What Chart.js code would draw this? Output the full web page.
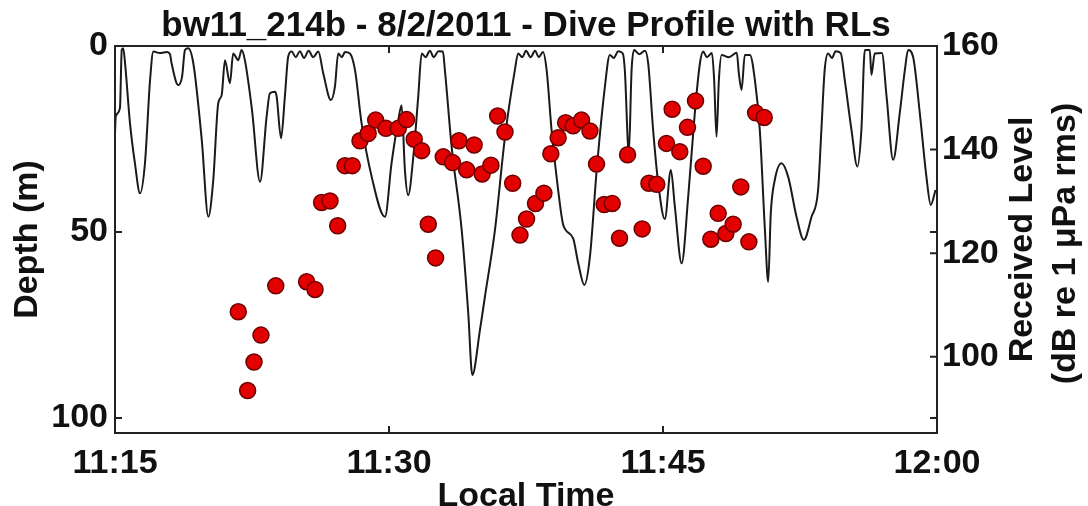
<!DOCTYPE html>
<html>
<head>
<meta charset="utf-8">
<script src="https://cdn.jsdelivr.net/npm/chart.js@4.4.0/dist/chart.umd.min.js"></script>
<style>
  html, body { margin: 0; padding: 0; background: #fff; }
</style>
</head>
<body>
<canvas id="diveChart" width="1088" height="506"></canvas>
<script>
// time axis is in minutes after 11:00
const timeTicks = [15, 30, 45, 60];
const depthTicks = [0, 50, 100];
const rlTicks = [100, 120, 140, 160];

// dive profile (depth in m)
const profileTime = [
  15.00, 15.04, 15.27, 15.37, 15.45, 15.55, 15.82, 16.09, 16.37, 16.64, 16.92, 17.10,
  17.46, 17.85, 18.01, 18.10, 18.46, 18.67, 18.83, 19.01, 19.29, 19.75, 20.11, 20.38,
  20.65, 20.84, 21.02, 21.29, 21.47, 21.75, 21.93, 22.11, 22.50, 22.94, 23.30, 23.48,
  23.76, 23.85, 24.09, 24.30, 24.48, 24.67, 24.90, 25.12, 25.35, 25.60, 25.85, 26.13,
  26.40, 26.82, 27.04, 27.22, 27.42, 27.59, 27.86, 28.14, 28.50, 29.05, 29.78, 30.14,
  30.51, 30.69, 30.87, 31.05, 31.33, 31.60, 31.79, 32.00, 32.24, 32.45, 32.70, 32.95,
  33.06, 33.43, 33.98, 34.34, 34.56, 34.98, 35.25, 35.80, 36.35, 36.89, 37.07, 37.30,
  37.50, 37.75, 38.00, 38.20, 38.43, 38.63, 38.90, 39.26, 39.54, 40.08, 40.36, 40.69,
  41.00, 41.37, 41.82, 42.09, 42.30, 42.55, 42.80, 42.91, 43.13, 43.28, 43.42, 43.70,
  44.01, 44.19, 44.46, 44.74, 45.10, 45.43, 45.65, 46.02, 46.38, 46.74, 47.02, 47.20,
  47.40, 47.68, 47.80, 47.93, 48.06, 48.21, 48.60, 49.04, 49.15, 49.30, 49.48, 49.76,
  50.03, 50.30, 50.58, 50.76, 50.90, 51.12, 51.49, 51.85, 52.31, 52.71, 53.13, 53.49,
  53.67, 53.85, 54.04, 54.25, 54.45, 54.73, 54.95, 55.32, 55.64, 55.86, 56.05, 56.32,
  56.41, 56.59, 56.98, 57.24, 57.60, 57.96, 58.24, 58.42, 58.69, 59.06, 59.42, 59.66,
  59.92
];
const profileDepth = [
  23.5, 19.0, 16.7, 1.1, 0.6, 4.6, 20.7, 31.5, 39.6, 31.5, 9.1, 1.5,
  1.9, 1.6, 2.2, 4.7, 10.5, 8.3, 1.1, 0.6, 4.7, 25.3, 45.9, 36.0,
  15.4, 13.2, 3.8, 10.0, 2.0, 3.8, 1.1, 3.8, 17.2, 36.5, 19.0, 12.7,
  12.3, 13.6, 24.8, 13.6, 2.9, 1.5, 3.0, 1.4, 3.2, 1.3, 3.0, 1.5,
  7.3, 14.5, 10.9, 2.0, 3.0, 1.6, 2.0, 6.5, 20.8, 35.1, 45.9, 31.5,
  19.9, 15.9, 33.3, 40.1, 29.8, 13.6, 2.0, 3.0, 1.3, 3.0, 1.4, 1.5,
  6.5, 27.1, 49.5, 71.9, 88.4, 76.3, 67.4, 49.5, 24.4, 6.5, 2.0, 3.0,
  1.3, 3.0, 1.3, 3.0, 1.6, 6.5, 22.6, 38.7, 48.1, 51.7, 58.4, 64.2,
  56.6, 33.3, 10.9, 2.4, 3.2, 1.4, 2.0, 6.5, 28.8, 6.5, 1.1, 2.2,
  1.3, 4.7, 22.6, 36.9, 46.5, 33.3, 43.2, 58.4, 40.5, 18.1, 4.7, 1.5,
  3.0, 1.9, 9.1, 24.4, 9.1, 2.4, 3.0, 1.8, 7.3, 11.8, 2.4, 2.4,
  9.1, 22.6, 49.5, 63.4, 45.0, 36.0, 31.5, 35.1, 45.9, 52.1, 45.9, 38.7,
  22.6, 6.5, 2.0, 3.2, 1.4, 1.9, 9.1, 22.6, 32.4, 22.6, 1.1, 1.1,
  7.8, 2.0, 1.9, 13.6, 30.6, 18.1, 6.5, 1.1, 2.9, 18.1, 35.1, 42.7,
  38.7
];

// received levels (dB re 1 uPa rms)
const rlTime = [
  21.75, 22.26, 22.61, 22.99, 23.80, 25.49, 25.95, 26.31, 26.77, 27.19, 27.59, 27.99,
  28.41, 28.86, 29.27, 29.83, 30.51, 30.96, 31.38, 31.79, 32.15, 32.55, 32.97, 33.48,
  33.83, 34.25, 34.66, 35.10, 35.58, 35.95, 36.35, 36.77, 37.17, 37.53, 38.02, 38.48,
  38.86, 39.26, 39.67, 40.08, 40.54, 41.00, 41.36, 41.78, 42.22, 42.62, 43.06, 43.86,
  44.23, 44.66, 45.19, 45.50, 45.92, 46.34, 46.78, 47.20, 47.62, 48.02, 48.44, 48.84,
  49.26, 49.70, 50.07, 50.54
];
const rlLevel = [
  108.7, 93.5, 99.0, 104.2, 113.7, 114.5, 113.0, 129.8, 130.1, 125.3, 136.9, 136.9,
  141.7, 143.1, 145.7, 144.1, 144.1, 145.8, 142.0, 139.8, 125.6, 119.1, 138.6, 137.5,
  141.7, 136.1, 140.9, 135.3, 137.0, 146.5, 143.4, 133.5, 123.5, 126.6, 129.6, 131.6,
  139.2, 142.3, 145.2, 144.6, 145.7, 143.6, 137.2, 129.4, 129.6, 122.9, 139.0, 124.7,
  133.5, 133.3, 141.2, 147.8, 139.6, 144.3, 149.4, 136.8, 122.7, 127.7, 123.8, 125.6,
  132.8, 122.2, 147.1, 146.2
];

const fontFamily = '"Liberation Sans", Arial, sans-serif';
const boldFont = { size: 34, weight: 'bold', family: fontFamily };

function fmtTime(v) {
  const h = 11 + Math.floor(v / 60);
  const m = v % 60;
  return h + ':' + (m < 10 ? '0' + m : m);
}

const frame = {
  id: 'frame',
  afterDatasetsDraw(chart) {
    const { ctx, chartArea: a, scales } = chart;
    ctx.save();
    ctx.strokeStyle = '#222';
    ctx.lineWidth = 2;
    ctx.strokeRect(a.left, a.top, a.right - a.left, a.bottom - a.top);
    ctx.beginPath();
    timeTicks.forEach((v) => {
      const x = scales.x.getPixelForValue(v);
      ctx.moveTo(x, a.bottom); ctx.lineTo(x, a.bottom - 7);
      ctx.moveTo(x, a.top); ctx.lineTo(x, a.top + 7);
    });
    depthTicks.forEach((v) => {
      const y = scales.depth.getPixelForValue(v);
      ctx.moveTo(a.left, y); ctx.lineTo(a.left + 7, y);
      ctx.moveTo(a.right, y); ctx.lineTo(a.right - 7, y);
    });
    rlTicks.forEach((v) => {
      const y = scales.rl.getPixelForValue(v);
      ctx.moveTo(a.right, y); ctx.lineTo(a.right - 7, y);
    });
    ctx.stroke();

    // right axis title, reading bottom to top
    const midY = (a.top + a.bottom) / 2;
    ctx.fillStyle = '#111';
    ctx.font = 'bold 34px ' + fontFamily;
    ctx.textAlign = 'center';
    ctx.textBaseline = 'middle';
    ctx.translate(1023, midY);
    ctx.rotate(-Math.PI / 2);
    ctx.fillText('Received Level', 0, 0);
    ctx.fillText('(dB re 1 \u03bcPa rms)', -4, 43);
    ctx.restore();
  }
};

const ctx = document.getElementById('diveChart').getContext('2d');

new Chart(ctx, {
  data: {
    datasets: [
      {
        type: 'scatter',
        label: 'RL',
        data: rlTime.map((t, i) => ({ x: t, y: rlLevel[i] })),
        yAxisID: 'rl',
        pointRadius: 8,
        pointBackgroundColor: '#e30000',
        pointBorderColor: '#6e0000',
        pointBorderWidth: 1.5,
        order: 1,
      },
      {
        type: 'line',
        label: 'Depth',
        data: profileTime.map((t, i) => ({ x: t, y: profileDepth[i] })),
        yAxisID: 'depth',
        borderColor: '#1a1a1a',
        borderWidth: 2,
        pointRadius: 0,
        cubicInterpolationMode: 'monotone',
        fill: false,
        order: 2,
      },
    ],
  },
  options: {
    responsive: false,
    animation: false,
    layout: { padding: 0 },
    plugins: {
      legend: { display: false },
      tooltip: { enabled: false },
      title: {
        display: true,
        text: 'bw11_214b - 8/2/2011 - Dive Profile with RLs',
        color: '#111',
        fullSize: false,
        font: { size: 35, weight: 'bold', family: fontFamily, lineHeight: 1 },
        padding: { top: 9, bottom: 2 },
      },
    },
    scales: {
      x: {
        type: 'linear',
        min: 15,
        max: 60,
        afterBuildTicks: (s) => { s.ticks = timeTicks.map((v) => ({ value: v })); },
        afterFit: (s) => { s.height = 73; },
        ticks: { callback: fmtTime, font: boldFont, color: '#111', padding: 10, maxRotation: 0, autoSkip: false },
        grid: { display: false, drawTicks: false },
        border: { display: false },
        title: { display: true, text: 'Local Time', color: '#111', font: boldFont, padding: { top: 0, bottom: -11 } },
      },
      depth: {
        type: 'linear',
        position: 'left',
        reverse: true,
        min: 0,
        max: 104,
        afterBuildTicks: (s) => { s.ticks = depthTicks.map((v) => ({ value: v })); },
        afterFit: (s) => { s.width = 115; },
        ticks: { font: boldFont, color: '#111', padding: 7 },
        grid: { display: false, drawTicks: false },
        border: { display: false },
        title: { display: true, text: 'Depth (m)', color: '#111', font: boldFont, padding: { top: 7, bottom: 0 } },
      },
      rl: {
        type: 'linear',
        position: 'right',
        min: 85.3,
        max: 160,
        afterBuildTicks: (s) => { s.ticks = rlTicks.map((v) => ({ value: v })); },
        afterFit: (s) => { s.width = 151; },
        ticks: { font: boldFont, color: '#111', padding: 5 },
        grid: { display: false, drawTicks: false },
        border: { display: false },
      },
    },
  },
  plugins: [frame],
});
</script>
</body>
</html>
